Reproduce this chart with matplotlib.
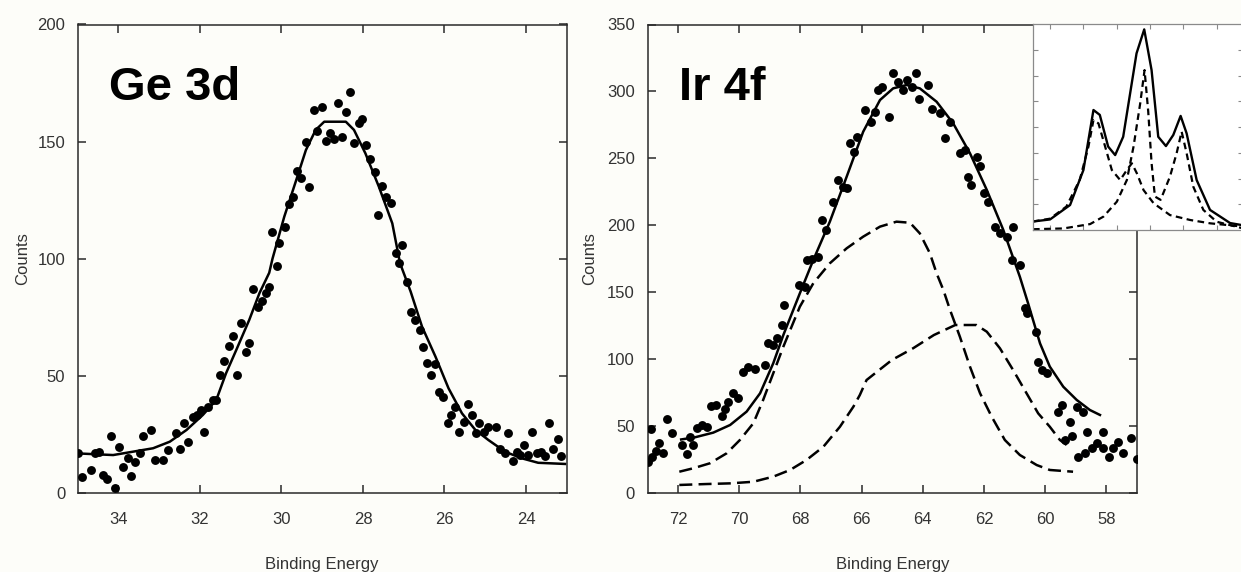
import matplotlib
matplotlib.use("Agg")
import matplotlib.pyplot as plt

plt.rcParams['font.family'] = ['Liberation Sans', 'DejaVu Sans']

# ---------------- data: Ge 3d ----------------
ge_x = [34.99, 34.90, 34.68, 34.58, 34.47, 34.37, 34.28, 34.19, 34.09, 33.98, 33.88, 33.76,
        33.70, 33.60, 33.48, 33.40, 33.21, 33.11, 32.91, 32.78, 32.60, 32.50, 32.38, 32.30,
        32.17, 32.08, 31.97, 31.89, 31.81, 31.68, 31.60, 31.50, 31.40, 31.29, 31.20, 31.10,
        30.99, 30.88, 30.79, 30.71, 30.58, 30.48, 30.38, 30.30, 30.11, 30.22, 30.05, 29.91,
        29.81, 29.71, 29.61, 29.52, 29.32, 29.40, 29.12, 29.20, 29.01, 28.91, 28.81, 28.71,
        28.61, 28.51, 28.42, 28.32, 28.22, 28.10, 28.02, 27.92, 27.82, 27.71, 27.54, 27.44,
        27.32, 27.63, 27.04, 27.20, 27.12, 26.92, 26.83, 26.73, 26.61, 26.53, 26.43, 26.22,
        26.33, 26.14, 26.04, 25.91, 25.83, 25.73, 25.64, 25.53, 25.43, 25.33, 25.22, 25.15,
        25.02, 24.92, 24.74, 24.63, 24.45, 24.51, 24.33, 24.23, 24.14, 24.04, 23.94, 23.84,
        23.74, 23.62, 23.53, 23.43, 23.33, 23.22, 23.13]
ge_y = [17.2, 7.0, 9.8, 16.9, 17.6, 7.7, 5.8, 24.5, 2.0, 19.8, 11.2, 14.8,
        7.3, 13.4, 17.2, 24.3, 26.9, 14.1, 14.1, 18.4, 25.7, 18.7, 30.0, 21.9,
        32.6, 33.3, 35.4, 26.2, 36.8, 39.7, 39.7, 50.4, 56.4, 62.8, 67.0, 50.4,
        72.4, 60.3, 63.9, 87.0, 79.5, 82.1, 85.2, 88.1, 97.0, 111.6, 106.9, 113.7,
        123.4, 126.5, 137.6, 134.3, 130.5, 150.0, 154.7, 163.5, 164.6, 150.3, 153.8, 151.0,
        166.3, 151.9, 162.8, 171.1, 149.2, 158.1, 159.5, 148.6, 142.5, 137.2, 131.1, 126.2,
        123.9, 118.7, 105.9, 102.6, 98.1, 90.2, 77.4, 73.9, 69.6, 62.2, 55.4, 54.9,
        50.4, 43.2, 41.1, 29.8, 33.3, 36.8, 26.2, 30.4, 38.0, 33.3, 25.7, 29.8,
        26.2, 28.0, 28.0, 18.7, 25.7, 17.2, 13.8, 17.6, 16.2, 20.5, 16.2, 26.2,
        16.9, 17.6, 15.8, 29.8, 18.7, 22.9, 15.8]

ge_fit_x = [35.0, 34.13, 33.15, 32.74, 32.33, 31.93, 31.60, 31.36, 31.11, 30.79, 30.54, 30.30,
            30.22, 29.93, 29.65, 29.40, 29.16, 28.95, 28.42, 28.22, 27.94, 27.61, 27.28, 27.09,
            26.83, 26.55, 26.22, 25.90, 25.57, 25.24, 24.92, 24.51, 24.10, 23.70, 23.04]
ge_fit_y = [16.9, 16.2, 19.1, 21.9, 26.9, 33.3, 39.7, 51.1, 61.0, 73.9, 85.3, 94.0,
            100.0, 118.0, 132.9, 146.4, 155.0, 158.5, 158.5, 155.0, 145.0, 130.8, 115.1, 98.1,
            86.0, 71.0, 58.2, 44.7, 34.0, 26.9, 22.6, 17.6, 14.8, 12.9, 12.4]

# ---------------- data: Ir 4f ----------------
ir_x = [73.0, 72.86, 72.90, 72.72, 72.61, 72.48, 72.37, 72.21, 71.88, 71.72, 71.61, 71.50,
        71.39, 71.23, 71.07, 70.93, 70.76, 70.58, 70.47, 70.36, 70.20, 70.03, 69.87, 69.71,
        69.49, 69.16, 69.05, 68.89, 68.78, 68.59, 68.55, 68.04, 67.85, 67.80, 67.63, 67.42,
        67.31, 67.17, 66.93, 66.76, 66.60, 66.49, 66.38, 66.25, 66.14, 65.89, 65.71, 65.57,
        65.46, 65.35, 65.10, 64.97, 64.80, 64.66, 64.53, 64.37, 64.23, 64.12, 63.82, 63.71,
        63.44, 63.28, 63.11, 62.79, 62.62, 62.52, 62.41, 62.24, 62.13, 62.00, 61.86, 61.64,
        61.48, 61.26, 61.05, 61.10, 60.83, 60.66, 60.61, 60.30, 60.23, 60.12, 59.95, 59.57,
        59.46, 59.19, 59.36, 59.14, 58.97, 58.78, 58.92, 58.70, 58.63, 58.48, 58.32, 58.12,
        58.10, 57.91, 57.78, 57.61, 57.45, 57.18, 57.00]
ir_y = [23.4, 27.1, 47.6, 31.6, 37.6, 30.1, 55.0, 44.6, 35.9, 29.1, 42.1, 35.9,
        48.3, 50.8, 49.6, 65.0, 65.7, 57.5, 62.5, 68.2, 74.5, 70.7, 90.6, 94.4,
        92.4, 95.6, 111.8, 110.6, 115.6, 125.5, 140.5, 155.4, 154.1, 174.1, 174.6, 176.5,
        204.0, 196.6, 217.6, 233.8, 228.8, 227.6, 261.3, 255.0, 266.2, 286.1, 277.4, 284.9,
        301.1, 303.5, 280.7, 313.6, 307.3, 301.1, 308.5, 303.5, 313.6, 294.1, 304.8, 286.6,
        283.7, 265.0, 277.4, 253.8, 256.3, 236.3, 230.1, 251.3, 244.3, 223.9, 217.6, 199.0,
        194.0, 191.5, 199.0, 174.1, 170.3, 138.0, 134.2, 120.5, 98.1, 91.9, 89.4, 60.8,
        65.7, 53.3, 39.6, 42.6, 64.5, 60.8, 26.7, 30.1, 45.8, 33.4, 37.1, 45.8,
        33.4, 27.1, 33.4, 38.3, 30.1, 40.9, 25.2]

ir_fit_x = [71.9, 71.45, 70.85, 70.30, 69.76, 69.32, 68.89, 68.56, 68.02, 67.58, 67.04, 66.49,
            65.95, 65.40, 64.97, 64.53, 64.10, 63.55, 63.01, 62.46, 61.91, 61.37, 60.83, 60.56,
            60.17, 59.85, 59.41, 58.97, 58.54, 58.21]
ir_fit_y = [40.0, 41.6, 45.1, 50.8, 60.8, 74.5, 96.9, 118.0, 149.2, 174.1, 202.7, 236.3,
            269.9, 293.6, 302.3, 304.8, 302.3, 292.3, 276.2, 253.8, 226.4, 196.5, 161.6, 141.7,
            111.8, 94.4, 79.4, 69.5, 62.0, 58.3]

ir_c1_x = [71.96, 71.50, 70.96, 70.41, 69.98, 69.54, 69.22, 68.89, 68.56, 68.02, 67.58, 67.04,
           66.49, 65.95, 65.40, 64.86, 64.42, 64.10, 63.77, 63.55, 63.33, 63.11, 62.79, 62.46,
           62.13, 61.75, 61.32, 60.83, 60.28, 59.85, 59.09]
ir_c1_y = [15.9, 18.5, 22.2, 29.7, 39.6, 52.1, 69.5, 89.4, 109.3, 139.2, 156.7, 171.6,
           182.8, 191.5, 199.0, 202.7, 201.9, 194.0, 179.1, 164.1, 151.7, 136.7, 116.8, 94.4,
           74.5, 57.0, 39.6, 28.4, 20.9, 17.2, 15.9]

ir_c2_x = [71.96, 71.07, 70.30, 69.54, 68.89, 68.34, 67.80, 67.25, 66.71, 66.27, 66.06, 65.84,
           65.01, 64.32, 63.64, 62.94, 62.25, 61.91, 61.48, 61.05, 60.61, 60.23, 59.85, 59.52,
           59.30]
ir_c2_y = [6.0, 6.7, 7.2, 8.4, 12.2, 17.2, 24.7, 34.6, 49.5, 64.5, 73.2, 84.4,
           99.4, 108.1, 118.0, 125.5, 125.5, 120.5, 108.1, 91.9, 74.5, 59.5, 49.5, 39.6,
           35.9]

# ---------------- data: inset ----------------
ins_sum_x = [0.0, 0.51, 1.11, 1.51, 1.81, 2.0, 2.25, 2.46, 2.70, 3.10, 3.33, 3.55, 3.75, 3.98,
             4.2, 4.42, 4.6, 4.9, 5.3, 5.9, 6.3]
ins_sum_y = [0.33, 0.41, 0.97, 2.33, 4.66, 4.47, 3.24, 2.91, 3.62, 6.86, 7.79, 6.21, 3.62, 3.26,
             3.69, 4.43, 3.75, 1.94, 0.78, 0.27, 0.18]
ins_a_x = [0.0, 0.51, 1.0, 1.4, 1.66, 1.81, 1.96, 2.16, 2.36, 2.61, 2.81, 2.96, 3.11, 3.31,
           3.61, 4.1, 4.7, 5.3, 6.3]
ins_a_y = [0.33, 0.44, 0.91, 1.95, 3.24, 4.27, 4.14, 3.24, 2.33, 1.94, 2.33, 2.59, 2.2, 1.55,
           1.04, 0.58, 0.39, 0.26, 0.13]
ins_b_x = [0.0, 0.91, 1.71, 2.11, 2.51, 2.81, 3.01, 3.21, 3.34, 3.45, 3.55, 3.65, 3.82, 4.1,
           4.3, 4.45, 4.6, 4.8, 5.1, 5.5, 6.3]
ins_b_y = [0.03, 0.06, 0.23, 0.52, 1.1, 1.94, 3.24, 4.92, 6.21, 4.6, 2.6, 1.3, 1.17, 2.07,
           2.98, 3.82, 2.98, 1.68, 0.78, 0.32, 0.06]

ge_xticks = [34, 32, 30, 28, 26, 24]
ge_yticks = [0, 50, 100, 150, 200]
ir_xticks = [72, 70, 68, 66, 64, 62, 60, 58]
ir_yticks = [0, 50, 100, 150, 200, 250, 300, 350]

BG = '#fdfdf9'
W, H = 1241, 572
fig = plt.figure(figsize=(W / 100, H / 100), dpi=100, facecolor=BG)


def px_axes(x0, x1, ytop, ybot, **kw):
    return fig.add_axes([x0 / W, 1 - ybot / H, (x1 - x0) / W, (ybot - ytop) / H], **kw)


def style_main(ax):
    ax.set_facecolor(BG)
    for s in ax.spines.values():
        s.set_linewidth(1.1)
        s.set_color('#2a2a2a')
    ax.tick_params(direction='in', length=6, width=1.1, color='#2a2a2a',
                   top=True, right=True, labelsize=12, labelcolor='#333333')
    ax.tick_params(axis='x', pad=14)
    ax.tick_params(axis='y', pad=9)


lw = 1.8
dash = (0, (5.2, 2.5))
MS = 6.4

# ---- Ge 3d ----
ax1 = px_axes(77.7, 566.7, 24.5, 493)
style_main(ax1)
ax1.plot(ge_fit_x, ge_fit_y, color='black', lw=lw, zorder=2)
ax1.plot(ge_x, ge_y, 'o', color='black', ms=MS, mew=0, zorder=3)
ax1.set_xlim(35, 23)
ax1.set_ylim(0, 200)
ax1.set_xticks(ge_xticks)
ax1.set_yticks(ge_yticks)
ax1.set_xlabel('Binding Energy', fontsize=12, color='#333333', labelpad=21)
ax1.set_ylabel('Counts', fontsize=12, color='#333333', labelpad=5)
ax1.text(34.23, 167.8, 'Ge 3d', fontsize=34, fontweight='bold', ha='left', va='baseline')

# ---- Ir 4f ----
ax2 = px_axes(647.5, 1137, 24.5, 493)
style_main(ax2)
ax2.plot(ir_c1_x, ir_c1_y, color='black', lw=lw, ls=dash, zorder=2)
ax2.plot(ir_c2_x, ir_c2_y, color='black', lw=lw, ls=dash, zorder=2)
ax2.plot(ir_fit_x, ir_fit_y, color='black', lw=lw, zorder=2)
ax2.plot(ir_x, ir_y, 'o', color='black', ms=MS, mew=0, zorder=3)
ax2.set_xlim(73, 57)
ax2.set_ylim(0, 350)
ax2.set_xticks(ir_xticks)
ax2.set_yticks(ir_yticks)
ax2.set_xlabel('Binding Energy', fontsize=12, color='#333333', labelpad=21)
ax2.set_ylabel('Counts', fontsize=12, color='#333333', labelpad=7)
ax2.text(71.97, 293.6, 'Ir 4f', fontsize=34, fontweight='bold', ha='left', va='baseline')

# ---- inset ----
ax3 = px_axes(1033, 1033 + 6.3 * 33.4, 24, 230)
ax3.set_facecolor('white')
for s in ax3.spines.values():
    s.set_linewidth(0.9)
    s.set_color('#8a8a8a')
ax3.plot(ins_a_x, ins_a_y, color='black', lw=1.6, ls=(0, (3, 2)))
ax3.plot(ins_b_x, ins_b_y, color='black', lw=1.6, ls=(0, (3, 2)))
ax3.plot(ins_sum_x, ins_sum_y, color='black', lw=1.7)
ax3.set_xlim(0, 6.3)
ax3.set_ylim(0, 8)
ax3.set_xticks([0.5, 1.5, 2.5, 3.5, 4.5, 5.5])
ax3.set_yticks([1, 2, 3, 4, 5, 6, 7])
ax3.tick_params(direction='in', length=3.5, width=0.8, color='#8a8a8a',
                top=True, right=True, labelbottom=False, labelleft=False)

fig.savefig('out.png', dpi=100, facecolor=BG)
